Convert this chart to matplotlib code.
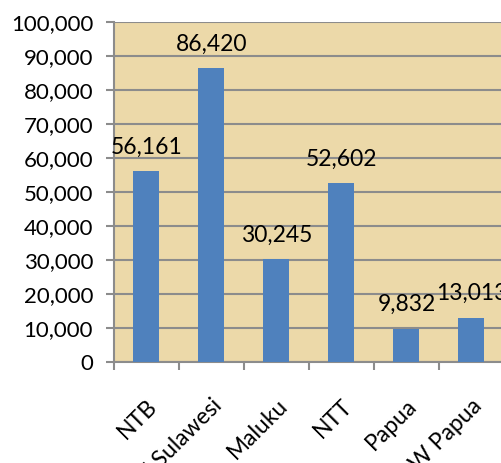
import matplotlib.pyplot as plt
import numpy as np

# provinces and values
provinces = ['NTB', 'SE Sulawesi', 'Maluku', 'NTT', 'Papua', 'W Papua']
values = [56161, 86420, 30245, 52602, 9832, 13013]
y_ticks = np.arange(0, 100001, 10000)

plt.rcParams['font.family'] = ['Lato', 'DejaVu Sans']

fig = plt.figure(figsize=(5.02, 4.63), dpi=100)
ax = fig.add_axes([114 / 502, 101 / 463, 390 / 502, 340 / 463])
ax.set_facecolor('#ECD9A9')

index = np.arange(len(values))
bars = ax.bar(index, values, 0.4, color='#4F81BD', zorder=3)

# value labels above each bar
for bar, v in zip(bars, values):
    ax.text(bar.get_x() + bar.get_width() / 2, v + 4000, f'{v:,}',
            ha='center', va='bottom', fontsize=16.5, zorder=4, clip_on=False)

ax.set_ylim(0, 100000)
ax.set_xlim(-0.5, len(values) - 0.5)
ax.set_yticks(y_ticks)
ax.set_yticklabels([f'{t:,}' for t in y_ticks], fontsize=16)
ax.yaxis.grid(True, color='#8C8C8C', linewidth=1.5, zorder=1)

# category ticks between bars, labels rotated
ax.set_xticks(np.arange(len(values) + 1) - 0.5)
ax.set_xticklabels([])
ax.set_xticks(index, minor=True)
ax.set_xticklabels(provinces, minor=True, rotation=45, ha='right',
                   rotation_mode='anchor', fontsize=16.5)
ax.tick_params(axis='x', which='minor', length=0, pad=24)
ax.tick_params(axis='x', which='major', length=6, color='#8C8C8C', width=1.5)
ax.tick_params(axis='y', length=6, color='#8C8C8C', width=1.5, pad=9)

for s in ['top', 'right']:
    ax.spines[s].set_visible(False)
for s in ['left', 'bottom']:
    ax.spines[s].set_color('#8C8C8C')
    ax.spines[s].set_linewidth(1.5)

fig.savefig('out.png', dpi=100)
